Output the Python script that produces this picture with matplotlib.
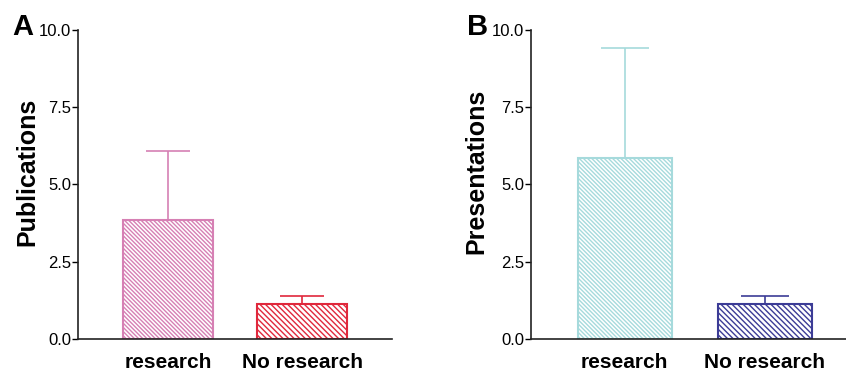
import matplotlib
matplotlib.use('Agg')
import matplotlib.pyplot as plt

# data
groups = ['research', 'No research']
pub_means = [3.86, 1.13]
pub_err = [2.22, 0.27]
pres_means = [5.86, 1.13]
pres_err = [3.55, 0.27]

yticks = [0, 2.5, 5, 7.5, 10]
ytick_labels = ['0.0', '2.5', '5.0', '7.5', '10.0']

plt.rcParams['font.family'] = ['Liberation Sans', 'DejaVu Sans']
plt.rcParams['hatch.linewidth'] = 1.0

fig = plt.figure(figsize=(8.46, 3.71), dpi=100)
axA = fig.add_axes([0.0922, 0.0863, 0.3712, 0.8329])
axB = fig.add_axes([0.6277, 0.0863, 0.3723, 0.8329])

dense = '\\' * 8
medium = '\\' * 6


def draw_panel(ax, means, errs, colors, hatches, ylabel, xlim, capsize, label_x):
    x = [0, 1]
    for i in x:
        ax.bar(x[i], means[i], width=0.67, facecolor='white', edgecolor=colors[i],
               hatch=hatches[i], linewidth=1.5, zorder=2)
        ax.errorbar(x[i], means[i], yerr=[[0], [errs[i]]], color=colors[i],
                    capsize=capsize, elinewidth=1.2, capthick=1.2, zorder=1)
    ax.set_xlim(*xlim)
    ax.set_ylim(0, 10)
    ax.set_yticks(yticks)
    ax.set_yticklabels(ytick_labels, fontsize=12)
    ax.set_xticks(x)
    ax.set_xticklabels(groups, fontsize=15, fontweight='bold')
    ax.tick_params(axis='x', length=0, pad=10)
    ax.tick_params(axis='y', length=4, width=1, pad=1)
    for s in ['top', 'right']:
        ax.spines[s].set_visible(False)
    for s in ['left', 'bottom']:
        ax.spines[s].set_linewidth(1.2)
        ax.spines[s].set_color('#222222')
    ax.set_ylabel(ylabel, fontsize=18, fontweight='bold', va='center')
    ax.yaxis.set_label_coords(label_x, 0.542)


draw_panel(axA, pub_means, pub_err, ['#D680B4', '#E0283C'], [dense, medium],
           'Publications', (-0.672, 1.672), 16, -0.162)
draw_panel(axB, pres_means, pres_err, ['#A6DADC', '#3C3C96'], [dense, medium],
           'Presentations', (-0.669, 1.58), 17, -0.172)

fig.text(12 / 846, 1 - 35 / 371, 'A', fontsize=21, fontweight='bold')
fig.text(467 / 846, 1 - 35 / 371, 'B', fontsize=21, fontweight='bold')

fig.savefig('out.png', dpi=100)
